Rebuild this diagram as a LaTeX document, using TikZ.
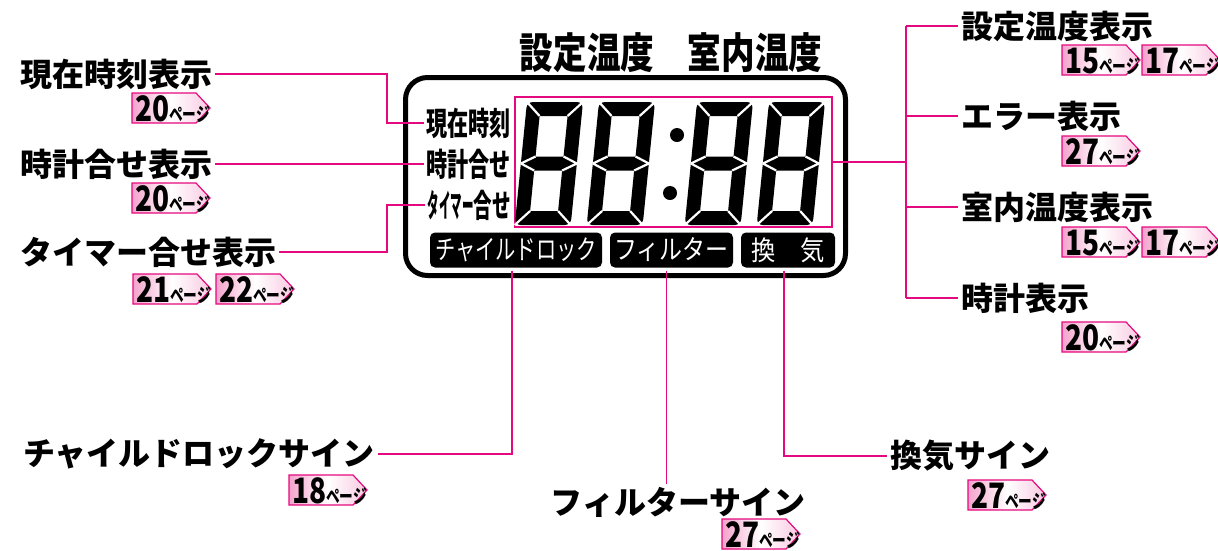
\documentclass[tikz,border=0pt]{standalone}
\usepackage{fontspec}
\usepackage{graphicx}
\usetikzlibrary{positioning,calc}
\setmainfont{Noto Sans CJK JP}
\definecolor{callpink}{HTML}{E5097F}
\definecolor{tagpink} {HTML}{F4A3CC}
\newcommand{\narrow}[2]{\scalebox{#1}[1]{#2}}
% page tag: name, left x, centre y, page number
\newcommand{\pagetag}[4]{%
  \shadedraw[tagfill] ({#2},{#3-15}) -- ++(64,0) -- ++(14,15) -- ++(-14,15) -- ++(-64,0) -- cycle;
  \node[tagtext,anchor=west] (#1) at ({#2+2},{#3+1})
    {\narrow{0.8}{\fontsize{35}{35}\selectfont\bfseries #4}\narrow{0.72}{\fontsize{19}{19}\selectfont\bfseries ページ}};}
% seven segment digit: top left x, top y
\newcommand{\segdigit}[2]{%
  \begin{scope}[shift={(#1,#2)},xslant=0.1]
    \fill[even odd rule] [rounded corners=6pt] (0,0) rectangle (56,123)
      [sharp corners] (14,14) rectangle (42,54.5) (14,68.5) rectangle (42,109);
    \draw[white,line width=2.2pt] (0,0) -- (14,14) (56,0) -- (42,14) (0,123) -- (14,109) (56,123) -- (42,109)
      (0,61.5) -- (14,54.5) (0,61.5) -- (14,68.5) (56,61.5) -- (42,54.5) (56,61.5) -- (42,68.5);
  \end{scope}}
\tikzset{
  calllabel/.style ={font=\fontsize{32}{32}\selectfont\bfseries, inner sep=3pt},
  callline/.style  ={draw=callpink, line width=1.3pt},
  lcdlabel/.style  ={font=\fontsize{32}{32}\selectfont\bfseries, inner sep=2pt},
  signbox/.style   ={fill=black, text=white, rounded corners=5pt, minimum height=35pt,
                     inner sep=0pt, font=\fontsize{27}{27}\selectfont},
  lcdframe/.style  ={draw, line width=5pt, rounded corners=22pt,
                     minimum width=440pt, minimum height=198pt},
  digitframe/.style={draw=callpink, line width=1.2pt, minimum width=317pt, minimum height=130pt},
  tagfill/.style   ={left color=tagpink, right color=tagpink!60, middle color=white,
                     draw=callpink, line width=1.2pt},
  tagtext/.style   ={inner sep=1pt},
}
\begin{document}
\begin{tikzpicture}[x=1pt,y=-1pt]
  \fill[white] (0,0) rectangle (1218,550);
  \useasboundingbox (0,0) rectangle (1218,550);

  % display
  \node[font=\fontsize{42}{42}\selectfont\bfseries] (title) at (671,53) {\narrow{0.8}{設定温度　室内温度}};
  \node[lcdframe] (lcd) at (625.5,176.5) {};
  \node[digitframe] (digitBox) at (673.5,162) {};
  \segdigit{527}{102}
  \segdigit{599}{102}
  \segdigit{697}{102}
  \segdigit{769}{102}
  \fill (677,135) circle (7pt);
  \fill (670,193) circle (7pt);

  \node[lcdlabel,anchor=east] (lcdNow) at (513,123) {\narrow{0.66}{現在時刻}};
  \node[lcdlabel,anchor=east] (lcdClk) at (513,164) {\narrow{0.66}{時計合せ}};
  \node[lcdlabel,anchor=east] (lcdTmr) at (513,205) {\narrow{0.36}{タイマー}\narrow{0.58}{合せ}};

  \node[signbox,minimum width=172pt] (boxChild)  at (516,250)   {\narrow{0.75}{チャイルドロック}};
  \node[signbox,minimum width=123pt] (boxFilter) at (671.5,250) {\narrow{0.85}{フィルター}};
  \node[signbox,minimum width=94pt]  (boxVent)   at (788,250)   {\narrow{0.9}{換　気}};

  % left labels
  \node[calllabel,anchor=west] (lbNow) at (17,74)  {現在時刻表示};
  \node[calllabel,anchor=west] (lbClk) at (17,164) {時計合せ表示};
  \node[calllabel,anchor=west] (lbTmr) at (17,252) {タイマー合せ表示};
  \coordinate (bendL) at (387,0);
  \draw[callline] (lbNow.east) -| (bendL |- lcdNow.west) -- (lcdNow.west);
  \draw[callline] (lbClk.east) -- (lcdClk.west);
  \draw[callline] (lbTmr.east) -| (bendL |- lcdTmr.west) -- (lcdTmr.west);
  \pagetag{tagNow}{132}{108}{20}
  \pagetag{tagClk}{132}{198}{20}
  \pagetag{tagTmrA}{133}{289}{21}
  \pagetag{tagTmrB}{216}{289}{22}

  % right labels
  \node[calllabel,anchor=west] (lbSet)   at (958,26)  {設定温度表示};
  \node[calllabel,anchor=west] (lbErr)   at (958,116) {エラー表示};
  \node[calllabel,anchor=west] (lbRoom)  at (958,207) {室内温度表示};
  \node[calllabel,anchor=west] (lbClock) at (958,298) {時計表示};
  \coordinate (spine) at (906,0);
  \draw[callline] (digitBox.east) -- (spine |- digitBox.east);
  \draw[callline] (spine |- lbSet.west) -- (spine |- lbClock.west);
  \foreach \n in {lbSet,lbErr,lbRoom,lbClock}
    \draw[callline] (spine |- \n.west) -- (\n.west);
  \pagetag{tagSetA}{1062}{60}{15}
  \pagetag{tagSetB}{1142}{60}{17}
  \pagetag{tagErr}{1062}{151}{27}
  \pagetag{tagRoomA}{1062}{242}{15}
  \pagetag{tagRoomB}{1142}{242}{17}
  \pagetag{tagClock}{1062}{337}{20}

  % bottom labels
  \node[calllabel,anchor=east] (lbChild)  at (378,454) {チャイルドロックサイン};
  \node[calllabel]             (lbFilter) at (678,502) {フィルターサイン};
  \node[calllabel,anchor=west] (lbVent)   at (887,456) {換気サイン};
  \draw[callline,shorten <=3pt] ([xshift=-4pt]boxChild.south) |- (lbChild.east);
  \draw[callline,shorten <=3pt] ([xshift=-5pt]boxFilter.south) -- ([xshift=-5pt]boxFilter.south |- lbFilter.north);
  \draw[callline,shorten <=3pt] ([xshift=-4pt]boxVent.south) |- (lbVent.west);
  \pagetag{tagChild}{289}{490}{18}
  \pagetag{tagFilter}{722}{534}{27}
  \pagetag{tagVent}{968}{495}{27}
\end{tikzpicture}
\end{document}
